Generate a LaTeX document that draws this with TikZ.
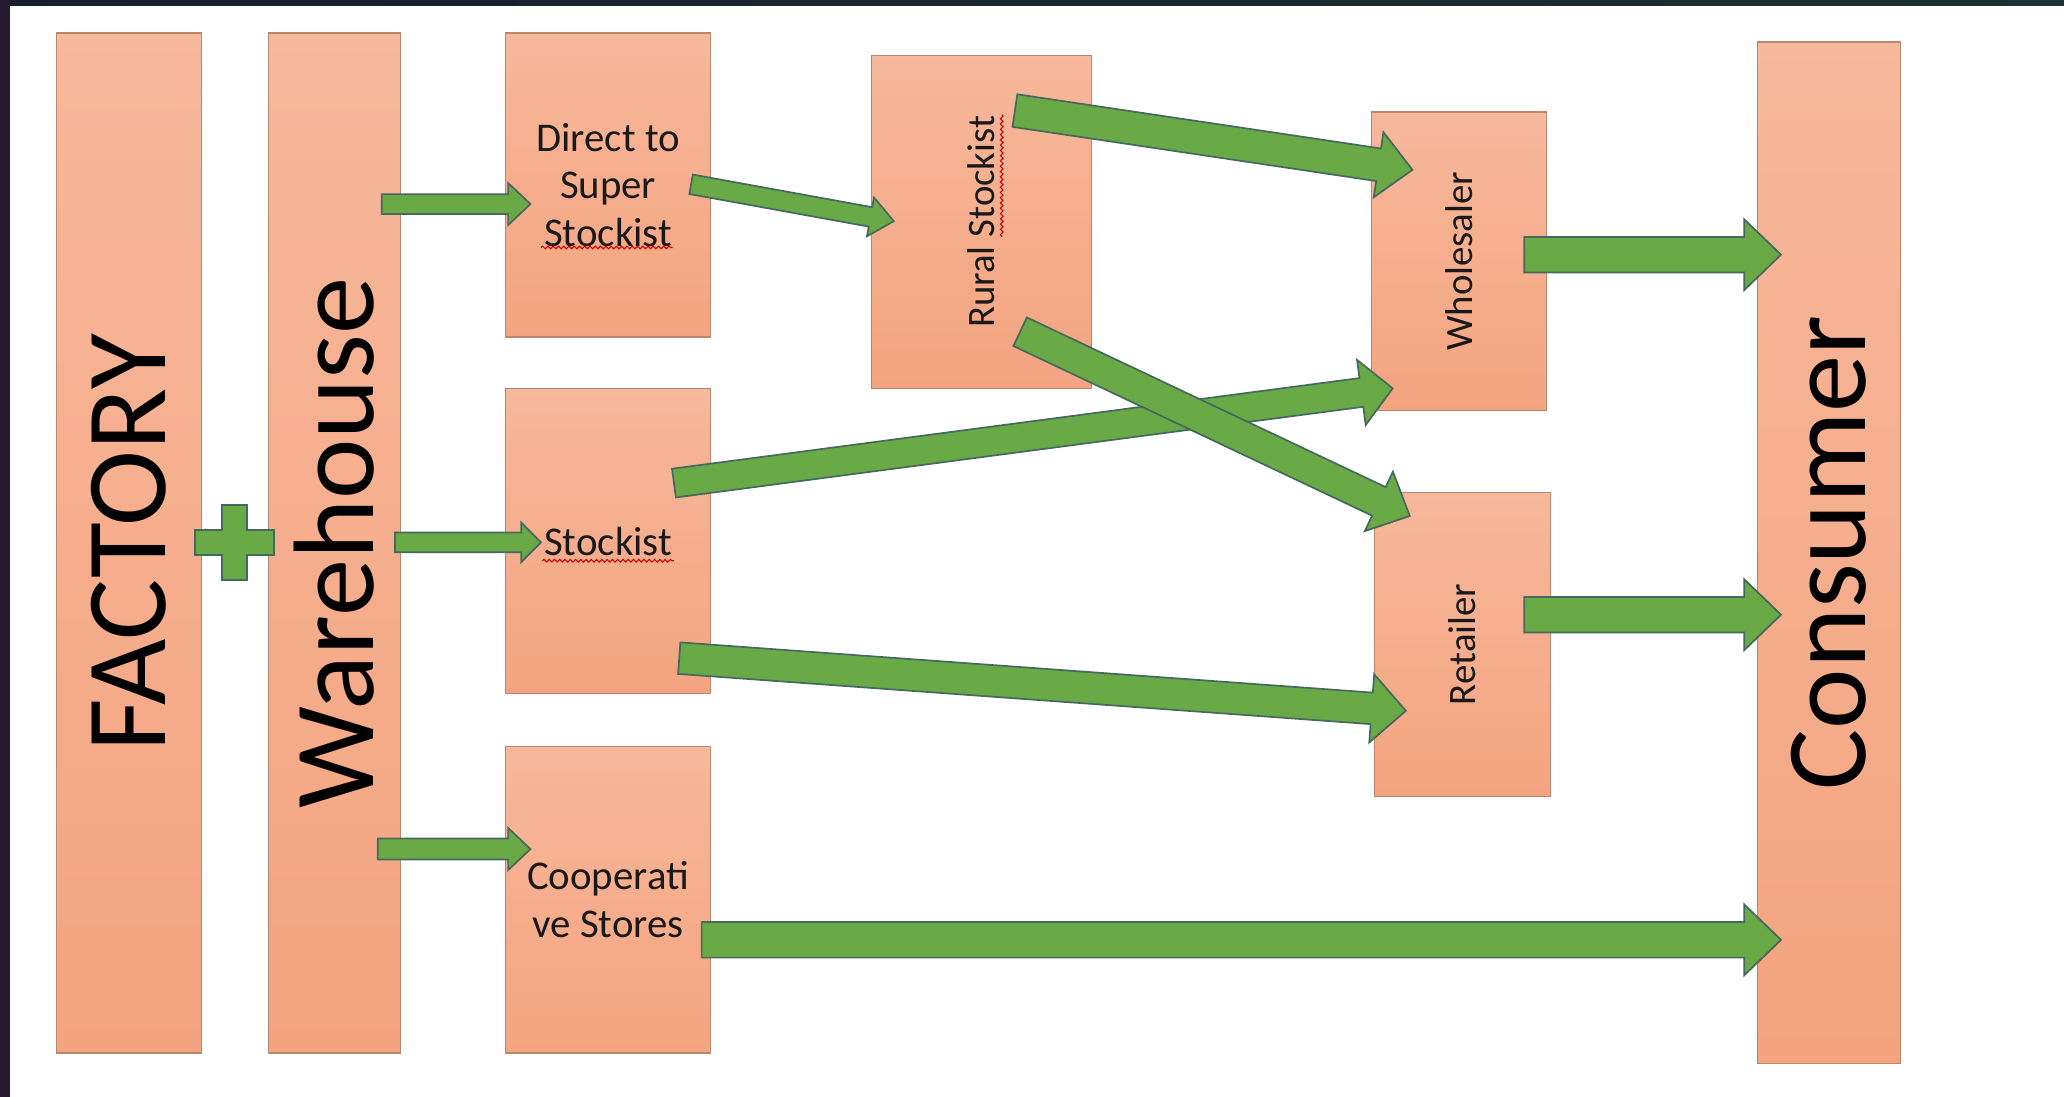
\documentclass[tikz,border=0pt]{standalone}
\usepackage{fontspec}
\setmainfont{Carlito}
\usepackage{graphicx}
\usetikzlibrary{calc,decorations.pathmorphing}

\definecolor{boxtop}{RGB}{247,184,155}
\definecolor{boxbot}{RGB}{244,164,128}
\definecolor{boxline}{RGB}{185,135,110}
\definecolor{flowfill}{RGB}{106,170,70}
\definecolor{flowline}{RGB}{70,105,95}
\definecolor{frameleft}{RGB}{38,26,50}
\definecolor{frametop}{RGB}{24,30,44}
\definecolor{frametopr}{RGB}{26,48,52}

\tikzset{
  box/.style={draw=boxline, line width=1pt, top color=boxtop, bottom color=boxbot, inner sep=0pt},
  bigtext/.style={font=\fontsize{87}{90}\selectfont},
  smalltext/.style={font=\fontsize{31}{36}\selectfont, align=center, text=black!90},
  sidetext/.style={font=\fontsize{29.5}{32}\selectfont, text=black!90},
  flow/.style={fill=flowfill, draw=flowline, line width=1.3pt, line join=miter},
  typo/.style={draw=red!80!black, line width=0.8pt, decorate, decoration={snake, amplitude=1pt, segment length=4pt}}
}

% block arrow: tail, tip, half shaft, half head, head length
\newcommand{\blockarrow}[5]{%
  \coordinate (hb) at ($(#2)!#5!(#1)$);
  \draw[flow] ($(#1)!#3!-90:(#2)$) -- ($(hb)!#3!90:(#1)$) -- ($(hb)!#4!90:(#1)$) -- (#2)
    -- ($(hb)!#4!-90:(#1)$) -- ($(hb)!#3!-90:(#1)$) -- ($(#1)!#3!90:(#2)$) -- cycle;}

\begin{document}
\begin{tikzpicture}[x=1pt,y=-1pt]
  \useasboundingbox (0,0) rectangle (1568,833);

  % dark frame at the top and left
  \fill[left color=frametop, right color=frametopr] (0,0) rectangle (1568,4.5);
  \fill[frameleft] (0,0) rectangle (7.6,833);

  % the three tall boxes
  \node[box, minimum width=110pt, minimum height=775pt, bigtext] (factory) at (98,412.5) {\rotatebox{90}{FACTORY}};
  \node[box, minimum width=100pt, minimum height=775pt, bigtext] (ware) at (254,412.5) {\rotatebox{90}{Warehouse}};
  \node[box, minimum width=109pt, minimum height=776pt, bigtext] (consumer) at (1389.5,420) {\rotatebox{90}{Consumer}};

  % the middle column
  \node[box, minimum width=156pt, minimum height=231pt, smalltext] (direct) at (462,140.5) {Direct to\\Super\\Stockist};
  \node[box, minimum width=156pt, minimum height=232pt, smalltext] (stockist) at (462,411) {Stockist};
  \node[box, minimum width=156pt, minimum height=233pt, smalltext] (coop) at (462,683.5) {Cooperati\\ve Stores};

  % rural stockist, wholesaler and retailer
  \node[box, minimum width=167pt, minimum height=253pt, sidetext] (rural) at (745.5,168.5) {\rotatebox{90}{Rural Stockist}};
  \node[box, minimum width=133pt, minimum height=227pt, sidetext] (whole) at (1108.5,198.5) {\rotatebox{90}{Wholesaler}};
  \node[box, minimum width=134pt, minimum height=231pt, sidetext] (retail) at (1111,489.5) {\rotatebox{90}{Retailer}};

  % spell check marks under stockist
  \draw[typo] (411,188) -- (511,188);
  \draw[typo] (412,426) -- (512,426);
  \draw[typo] (761,87) -- (761,180);

  % plus between factory and warehouse
  \draw[flow, shift={(178,412)}] (-9.5,-28.5) -- (9.5,-28.5) -- (9.5,-9.5) -- (30,-9.5) -- (30,9.5) -- (9.5,9.5)
    -- (9.5,28.5) -- (-9.5,28.5) -- (-9.5,9.5) -- (-30,9.5) -- (-30,-9.5) -- (-9.5,-9.5) -- cycle;

  % arrow ends
  \coordinate (wd-tail) at (290,155);   \coordinate (wd-tip) at (403,155);
  \coordinate (ws-tail) at (300,412);   \coordinate (ws-tip) at (411,412);
  \coordinate (wc-tail) at (287,645);   \coordinate (wc-tip) at (403,645);
  \coordinate (dr-tail) at (525,140);   \coordinate (dr-tip) at (679,168);
  \coordinate (rw-tail) at (771,84);    \coordinate (rw-tip) at (1073,129);
  \coordinate (rr-tail) at (775,252);   \coordinate (rr-tip) at (1071,392);
  \coordinate (sw-tail) at (512,367);   \coordinate (sw-tip) at (1058,295);
  \coordinate (sr-tail) at (516,500);   \coordinate (sr-tip) at (1068,540);
  \coordinate (wk-tail) at (1158,193.5); \coordinate (wk-tip) at (1353,193.5);
  \coordinate (rk-tail) at (1158,467);  \coordinate (rk-tip) at (1353,467);
  \coordinate (ck-tail) at (533,714);   \coordinate (ck-tip) at (1353,714);

  % warehouse to the middle column
  \blockarrow{wd-tail}{wd-tip}{7.5pt}{16pt}{17pt}
  \blockarrow{ws-tail}{ws-tip}{7.5pt}{15pt}{15pt}
  \blockarrow{wc-tail}{wc-tip}{8pt}{16pt}{17pt}

  % direct to rural stockist
  \blockarrow{dr-tail}{dr-tip}{7.5pt}{15pt}{18pt}

  % to wholesaler and retailer
  \blockarrow{rw-tail}{rw-tip}{12.5pt}{25pt}{26pt}
  \blockarrow{sw-tail}{sw-tip}{11pt}{25pt}{24pt}
  \blockarrow{sr-tail}{sr-tip}{12pt}{26pt}{26pt}
  \blockarrow{rr-tail}{rr-tip}{12pt}{25pt}{26pt}

  % into the consumer
  \blockarrow{wk-tail}{wk-tip}{13.5pt}{27pt}{28pt}
  \blockarrow{rk-tail}{rk-tip}{13.5pt}{27pt}{28pt}
  \blockarrow{ck-tail}{ck-tip}{13.5pt}{27pt}{28pt}
\end{tikzpicture}
\end{document}
